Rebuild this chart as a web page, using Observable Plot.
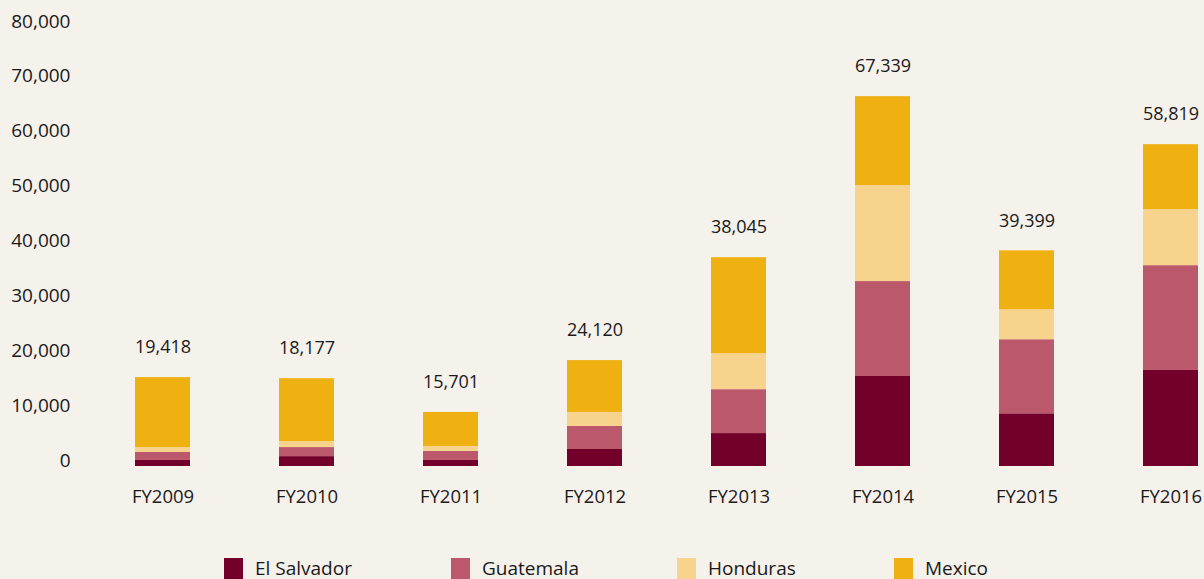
<!DOCTYPE html>
<html>
<head>
<meta charset="utf-8">
<script src="https://cdn.jsdelivr.net/npm/d3@7"></script>
<script src="https://cdn.jsdelivr.net/npm/@observablehq/plot@0.6"></script>
<style>
  html, body { margin: 0; padding: 0; background: #f5f1eb; }
  body { width: 1204px; height: 579px; overflow: hidden; font-family: "Open Sans", sans-serif; color: #1a1a1a; }
  #chart svg { display: block; background: #f5f1eb; }
  #legend { position: relative; height: 39px; }
  .item { position: absolute; top: 18px; display: flex; align-items: flex-start; font-size: 19px; line-height: 20px; }
  .sw { width: 19px; height: 21px; margin-right: 12px; }
</style>
</head>
<body>
<div id="chart"></div>
<div id="legend"></div>
<script>
const years = ["FY2009", "FY2010", "FY2011", "FY2012", "FY2013", "FY2014", "FY2015", "FY2016"];
const countries = ["El Salvador", "Guatemala", "Honduras", "Mexico"];
const elSalvador = [1100, 1800, 1100, 3100, 6000, 16400, 9600, 17500];
const guatemala  = [1450, 1650, 1650, 4200, 8000, 17300, 13500, 19100];
const honduras   = [900, 1100, 900, 2550, 6550, 17500, 5450, 10200];
const mexico     = [12750, 11450, 6200, 9450, 17500, 16200, 10750, 11850];
const totalLabels = [19418, 18177, 15701, 24120, 38045, 67339, 39399, 58819];
const yTicks = [0, 10000, 20000, 30000, 40000, 50000, 60000, 70000, 80000];
const colors = ["#72002b", "#bb586c", "#f7d38e", "#efb012"];

const series = [elSalvador, guatemala, honduras, mexico];
const rows = years.flatMap((yr, i) => countries.map((c, j) => ({year: yr, country: c, value: series[j][i]})));
const sums = years.map((yr, i) => series.reduce((s, a) => s + a[i], 0));
const fmt = d3.format(",");

const chart = Plot.plot({
  width: 1204,
  height: 540,
  marginLeft: 129,
  marginRight: 0,
  marginTop: 27,
  marginBottom: 74,
  style: {fontFamily: "Open Sans, sans-serif", background: "#f5f1eb", color: "#1a1a1a"},
  x: {domain: years, paddingInner: 0.62, paddingOuter: 0.03, axis: null},
  y: {domain: [0, 80000], axis: null},
  color: {domain: countries, range: colors},
  marks: [
    Plot.barY(rows, {x: "year", y: "value", fill: "country"}),
    Plot.text(years, {x: d => d, y: (d, i) => sums[i], text: (d, i) => fmt(totalLabels[i]), dy: -30, fontSize: 18, fill: "#1a1a1a", lineAnchor: "middle"}),
    Plot.text(yTicks, {y: d => d, text: d => fmt(d), frameAnchor: "left", textAnchor: "end", dx: -59, dy: -6, fontSize: 19, fill: "#1a1a1a", lineAnchor: "middle"}),
    Plot.text(years, {x: d => d, text: d => d, frameAnchor: "bottom", dy: 31, fontSize: 18.5, fill: "#1a1a1a", lineAnchor: "middle"})
  ]
});
document.getElementById("chart").appendChild(chart);

const legendLeft = [224, 451, 677, 894];
const legend = document.getElementById("legend");
countries.forEach((c, i) => {
  const item = document.createElement("div");
  item.className = "item";
  item.style.left = legendLeft[i] + "px";
  const sw = document.createElement("div");
  sw.className = "sw";
  sw.style.background = chart.scale("color").apply(c);
  const t = document.createElement("span");
  t.textContent = c;
  item.appendChild(sw);
  item.appendChild(t);
  legend.appendChild(item);
});
</script>
</body>
</html>
